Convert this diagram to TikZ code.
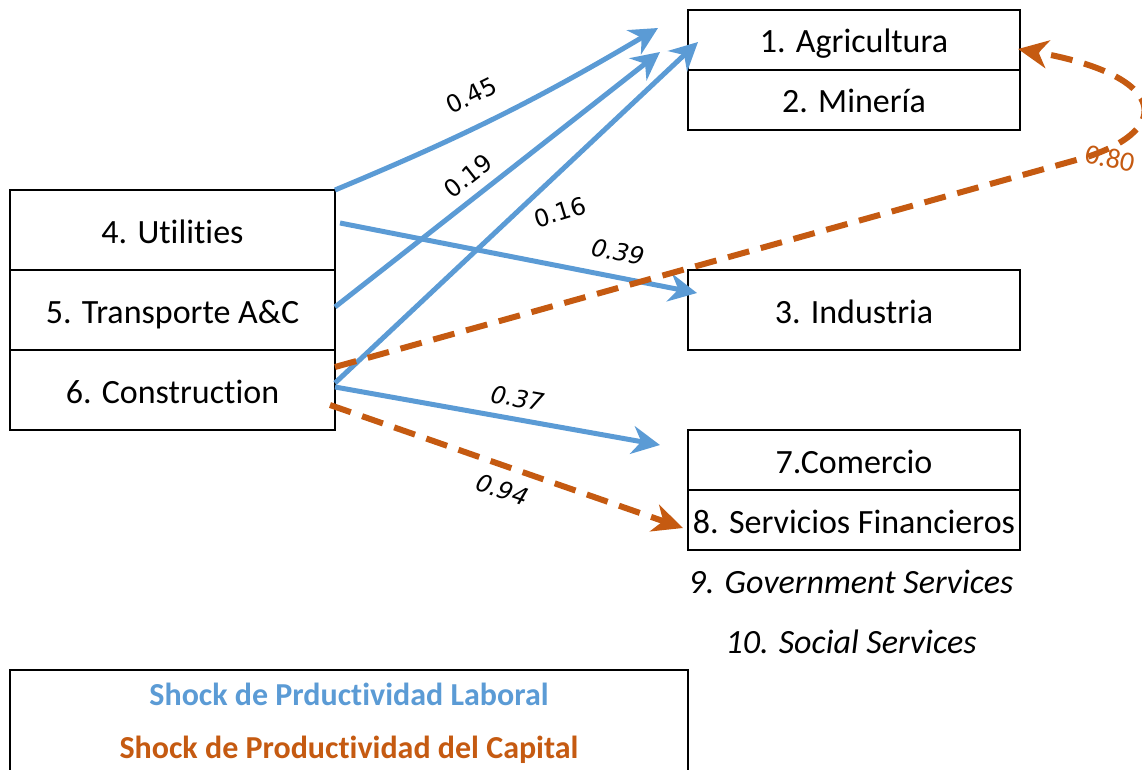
\documentclass[tikz,border=0pt]{standalone}
\usepackage{fontspec}
\setmainfont{Carlito}[Ligatures=NoCommon]
\newfontfamily\lblfont{DejaVu Sans}
\usetikzlibrary{arrows.meta,positioning}
\definecolor{labblue}{HTML}{5B9BD5}
\definecolor{capbrown}{HTML}{C55A11}
\tikzset{
  sector/.style={draw, line width=1.5pt, outer sep=0pt, inner sep=0pt,
    minimum width=332pt, minimum height=60pt, text height=28pt, text depth=2pt,
    font=\fontsize{34}{38}\selectfont},
  leftsector/.style={sector, minimum width=325pt, minimum height=80pt},
  freetext/.style={font=\fontsize{34}{38}\selectfont\itshape},
  lbl/.style={text=black, font=\lblfont\fontsize{24}{26}\selectfont},
  lblit/.style={lbl, font=\lblfont\fontsize{24}{26}\selectfont\itshape},
  labshock/.style={line width=5pt, labblue, -{Stealth[length=28pt, width=28pt, inset=9pt]}},
  capshock/.style={line width=6pt, capbrown, dash pattern=on 22pt off 12pt,
    -{Stealth[length=30pt, width=28pt, inset=9pt]}}
}

\begin{document}
\begin{tikzpicture}[x=1pt, y=1pt]
\useasboundingbox (0,0) rectangle (1142,-770);

% left
\node[leftsector] (u4) at (172.5,-230) {4. Utilities};
\node[leftsector, below=0pt of u4] (t5) {5. Transporte A\&C};
\node[leftsector, below=0pt of t5] (c6) {6. Construction};

% right
\node[sector] (a1) at (854,-40) {1. Agricultura};
\node[sector, below=0pt of a1] (m2) {2. Minería};
\node[sector, minimum height=80pt] (i3) at (854,-310) {3. Industria};
\node[sector] (co7) at (854,-460) {7.Comercio};
\node[sector, below=0pt of co7] (sf8) {8. Servicios Financieros};
\node[freetext] (g9) at (851,-582) {9. Government Services};
\node[freetext] (s10) at (851,-642) {10. Social Services};

% labour shocks
\draw[labshock] (u4.north east) to[bend right=4]
  node[lbl, pos=0.45, sloped, above=16pt] {0.45} ([shift={(-30pt,12pt)}]a1.west);
\draw[labshock] ([yshift=3pt]t5.east) --
  node[lbl, pos=0.45, sloped, above=6pt] {0.19} ([shift={(-28pt,-12pt)}]a1.west);
\draw[labshock] ([yshift=7pt]c6.east) -- ([shift={(10pt,-2pt)}]a1.west);
\node[lbl, rotate=17] (l16) at (560,-212) {0.16};
\draw[labshock] ([shift={(5pt,7pt)}]u4.east) --
  node[lblit, pos=0.765, sloped, above=10pt] {0.39} ([shift={(9pt,17pt)}]i3.west);
\draw[labshock] ([yshift=3pt]c6.east) --
  node[lblit, pos=0.55, sloped, above=6pt] {0.37} ([shift={(-28pt,15pt)}]co7.west);

% capital shocks
\draw[capshock] ([shift={(-5pt,-15pt)}]c6.east) --
  node[lblit, pos=0.51, sloped, below=8pt] {0.94} ([shift={(-5pt,-8pt)}]sf8.west);
\draw[capshock] ([yshift=23pt]c6.east) -- (1087,-157)
  .. controls (1175,-128) and (1165,-75) .. ([shift={(-2pt,-9pt)}]a1.east);
\node[text=capbrown, font=\fontsize{28}{30}\selectfont, rotate=-12] (l80) at (1110,-158) {0.80};

% legend
\draw[line width=1.5pt] (10,-670) rectangle (688,-800);
\node[align=center, font=\fontsize{32}{53}\selectfont\bfseries] (lg) at (349,-723)
  {\textcolor{labblue}{Shock de Prductividad Laboral}\\
   \textcolor{capbrown}{Shock de Productividad del Capital}};
\end{tikzpicture}
\end{document}
